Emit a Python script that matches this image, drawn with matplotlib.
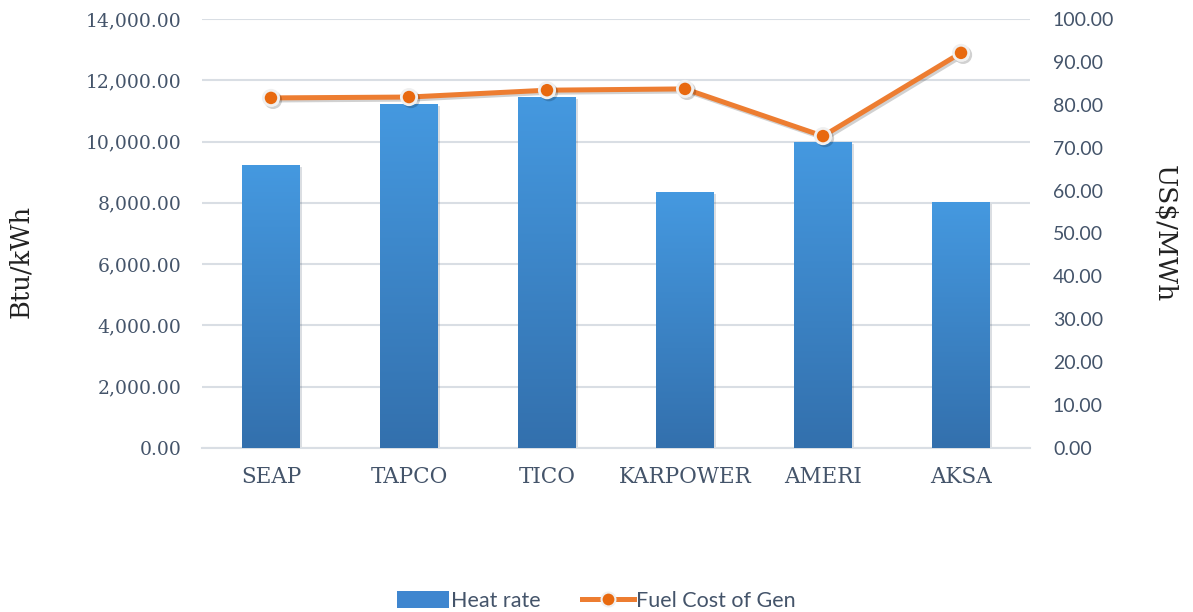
import numpy as np
import matplotlib.pyplot as plt
import matplotlib.patheffects as pe
from matplotlib.ticker import FuncFormatter
from matplotlib.patches import Patch
from matplotlib.lines import Line2D

# Data
plants = ['SEAP', 'TAPCO', 'TICO', 'KARPOWER', 'AMERI', 'AKSA']
heat_rate = [9250, 11230, 11470, 8350, 10000, 8030]       # Btu/kWh
fuel_cost = [81.6, 81.8, 83.4, 83.7, 72.7, 92.1]          # US$/MWh

text_col = '#44546A'
grid_col = '#D9DEE4'
serif = ['DejaVu Serif']
sans = ['Lato', 'DejaVu Sans']

fig = plt.figure(figsize=(11.93, 6.12), dpi=100)
ax = fig.add_axes([0.1693, 0.268, 0.6941, 0.701])
ax2 = ax.twinx()

x = np.arange(len(plants))
bars = ax.bar(x, heat_rate, width=0.42, color='#3F86CF', zorder=2,
              path_effects=[pe.SimplePatchShadow(offset=(1.5, -1.5), alpha=0.15), pe.Normal()])

# vertical gradient on each bar (light at top, darker at bottom)
grad = np.linspace(0, 1, 256).reshape(-1, 1)
cmap = plt.matplotlib.colors.LinearSegmentedColormap.from_list('g', ['#3370AD', '#4599E0'])
for b in bars:
    x0, w, h = b.get_x(), b.get_width(), b.get_height()
    im = ax.imshow(grad, extent=[x0, x0 + w, 0, h], origin='lower', cmap=cmap,
                   aspect='auto', zorder=3)
    im.set_clip_path(b)

ax.set_xlim(-0.5, len(plants) - 0.5)
ax.set_ylim(0, 14000)
ax.set_yticks(np.arange(0, 14001, 2000))
ax.yaxis.set_major_formatter(FuncFormatter(lambda v, p: f'{v:,.2f}'))
ax.grid(axis='y', color=grid_col, linewidth=1.5, zorder=0)
ax.set_axisbelow(True)
ax.set_xticks(x)
ax.set_xticklabels(plants, family=serif, fontsize=15.5, color=text_col)
for lab in ax.get_yticklabels():
    lab.set_family(serif)
    lab.set_fontsize(13.5)
    lab.set_color(text_col)
ax.tick_params(axis='both', length=0)
ax.tick_params(axis='y', pad=15)
ax.tick_params(axis='x', pad=13)
for s in ['top', 'left', 'right']:
    ax.spines[s].set_visible(False)
ax.spines['bottom'].set_color(grid_col)
ax.spines['bottom'].set_linewidth(1.5)
ax.set_ylabel('Btu/kWh', family=serif, fontsize=18.5, color='#222222')
ax.yaxis.set_label_coords(-0.204, 0.435)

ax2.plot(x, fuel_cost, color='#ED7D31', linewidth=3.6, marker='o', markersize=11,
         markerfacecolor='#E8690F', markeredgecolor='#F0F0F0', markeredgewidth=2,
         path_effects=[pe.SimpleLineShadow(offset=(1.5, -1.5), alpha=0.18), pe.Normal()],
         zorder=5)
ax2.set_ylim(0, 100)
ax2.set_yticks(np.arange(0, 101, 10))
ax2.yaxis.set_major_formatter(FuncFormatter(lambda v, p: f'{v:.2f}'))
for lab in ax2.get_yticklabels():
    lab.set_family(sans)
    lab.set_fontsize(14)
    lab.set_color(text_col)
ax2.tick_params(axis='y', length=0, pad=16.5)
for s in ax2.spines.values():
    s.set_visible(False)
ax2.set_ylabel('US$/MWh', family=serif, fontsize=19, color='#222222', rotation=270)
ax2.yaxis.set_label_coords(1.178, 0.5)

handles = [Patch(facecolor='#3F86CF', label='Heat rate'),
           Line2D([0], [0], color='#ED7D31', linewidth=3.6, marker='o', markersize=10,
                  markerfacecolor='#E8690F', markeredgecolor='#F0F0F0',
                  markeredgewidth=1.5, label='Fuel Cost of Gen')]
leg = fig.legend(handles=handles, loc='center', bbox_to_anchor=(0.5, 0.018), ncol=2,
                 frameon=False, prop={'family': sans, 'size': 15.5},
                 handlelength=2.4, handleheight=0.8, columnspacing=1.9, handletextpad=0.12)
for t in leg.get_texts():
    t.set_color(text_col)

fig.savefig('out.png', dpi=100)
